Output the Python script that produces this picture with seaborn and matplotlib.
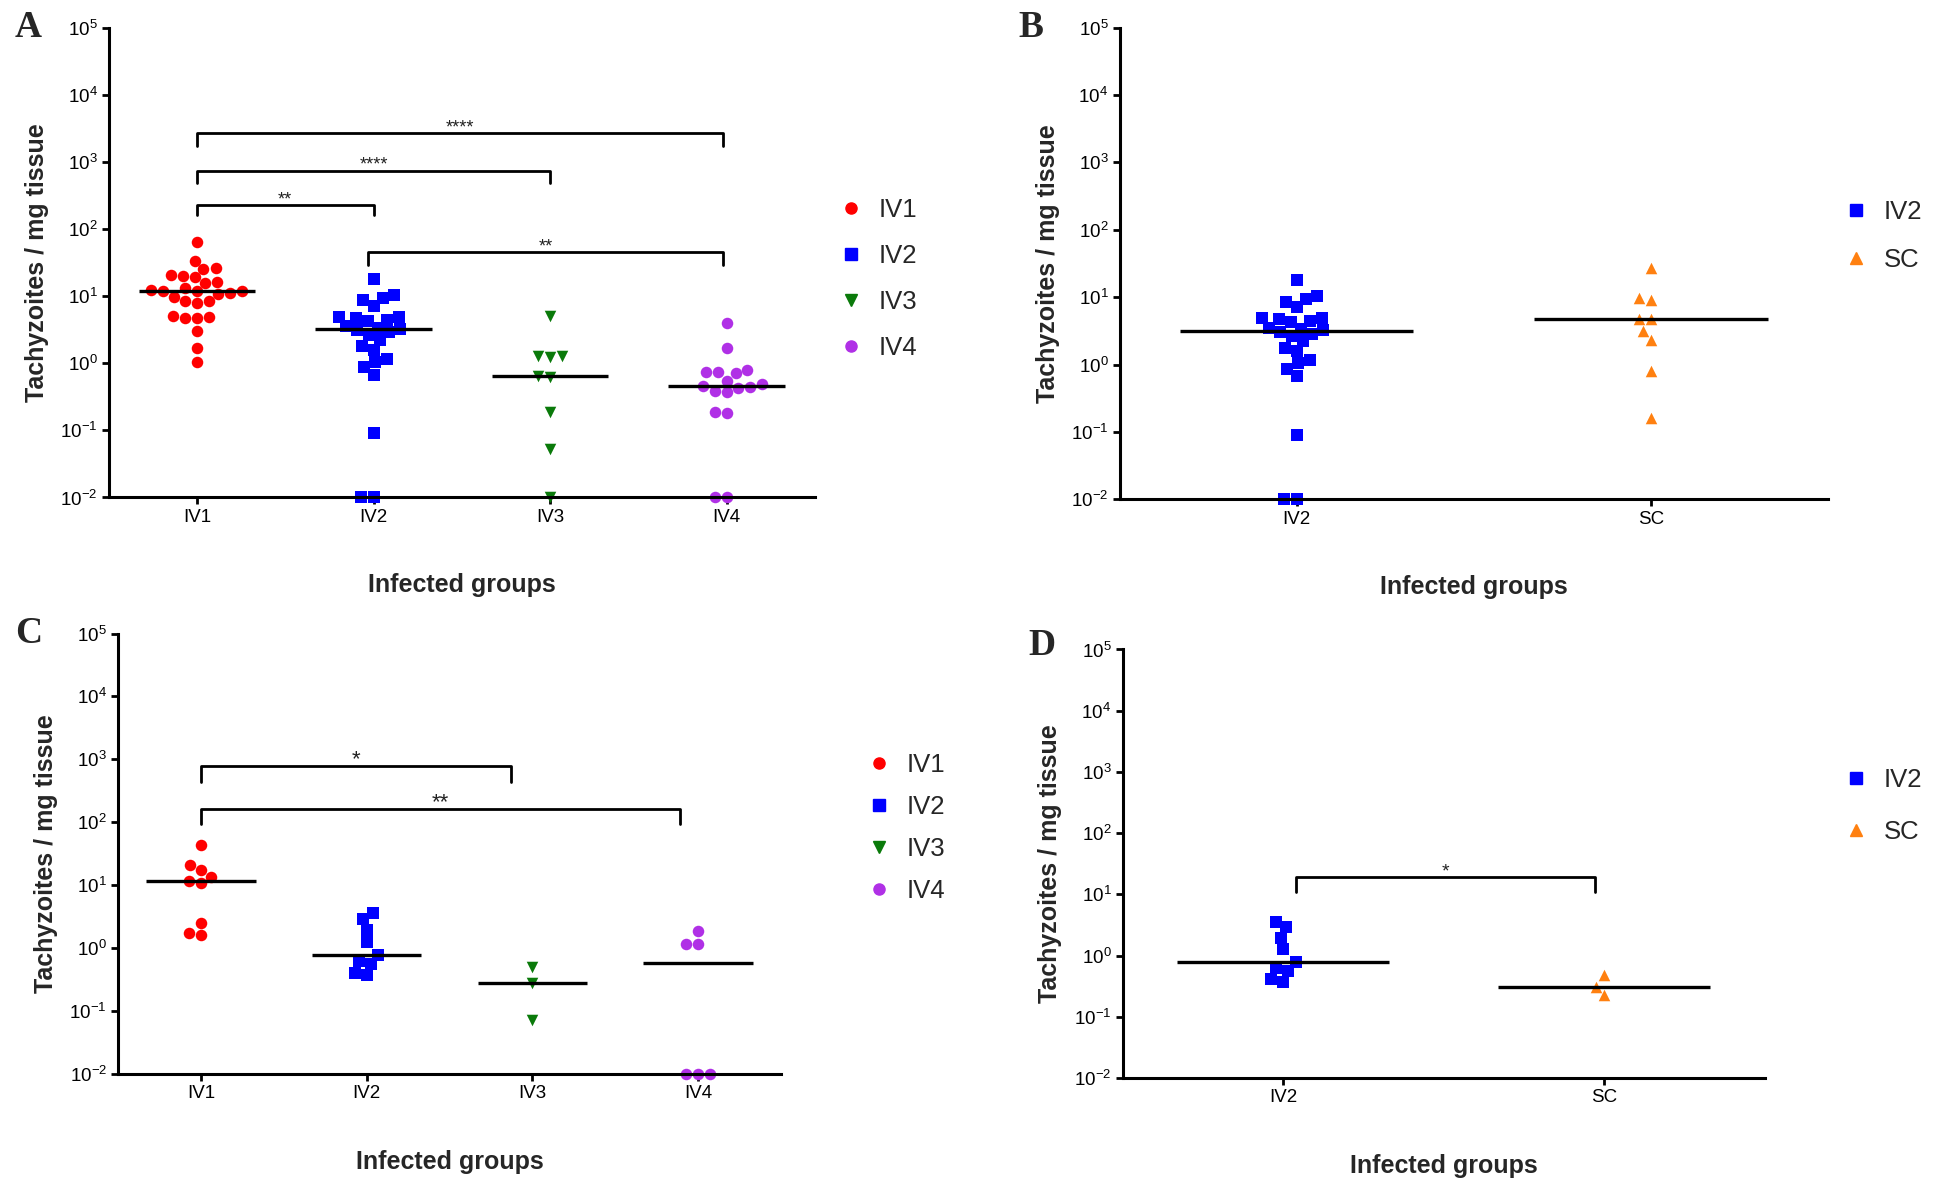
import numpy as np
import pandas as pd
import matplotlib
matplotlib.use("Agg")
import matplotlib.pyplot as plt
import seaborn as sns
from matplotlib.lines import Line2D
from matplotlib.ticker import NullLocator

# ---------------- data (tachyzoites / mg tissue) ----------------
groups_ACD = ["IV1", "IV2", "IV3", "IV4"]
groups_BD = ["IV2", "SC"]

A_IV1 = [64, 33, 25, 26, 20, 19, 20.5, 16.3, 15.7, 13.2, 12, 11.8, 10.9, 11.1,
         11.8, 12.3, 9.7, 8.4, 7.9, 8.4, 4.9, 4.7, 4.7, 5.1, 3.05, 1.66, 1.03]
A_IV2 = [18, 9.3, 10.3, 8.6, 7.2, 4.9, 4.4, 4.27, 4.7, 4.9, 3.55, 3.27, 3.4,
         3.09, 2.88, 2.64, 2.24, 1.78, 1.59, 1.05, 1.16, 0.865, 0.667, 0.091,
         0.01, 0.01]
A_IV3 = [5.0, 1.29, 1.24, 1.29, 0.65, 0.62, 0.19, 0.052, 0.01]
A_IV4 = [4.0, 1.69, 0.80, 0.73, 0.71, 0.73, 0.55, 0.43, 0.44, 0.37, 0.39,
         0.45, 0.49, 0.186, 0.18, 0.01, 0.01]
B_SC = [26.8, 9.1, 9.6, 4.7, 4.7, 3.15, 2.3, 0.81, 0.16]
C_IV1 = [43, 17.6, 21, 11.7, 10.8, 13.3, 2.55, 1.6, 1.77]
C_IV2 = [3.6, 2.9, 1.95, 1.27, 0.78, 0.56, 0.63, 0.377, 0.41]
C_IV3 = [0.51, 0.284, 0.072]
C_IV4 = [1.16, 1.15, 1.84, 0.01, 0.01, 0.01]
D_SC = [0.48, 0.226, 0.31]

ytick_exps = [-2, -1, 0, 1, 2, 3, 4, 5]

# significance comparisons: (x_left, x_right, log10 top, log10 end, label)
sig_A = [(0, 1, 2.36, 2.20, "**"), (0, 2, 2.87, 2.69, "****"),
         (0, 2.98, 3.43, 3.24, "****"), (0.97, 2.98, 1.655, 1.47, "**")]
sig_C = [(0, 1.87, 2.89, 2.64, "*"), (0, 2.89, 2.21, 1.965, "**")]
sig_D = [(0.04, 0.97, 1.278, 1.04, "*")]

COL = {"IV1": "#FF0000", "IV2": "#0000FF", "IV3": "#0A7A0A",
       "IV4": "#B030E6", "SC": "#FF8010"}
MRK = {"IV1": "o", "IV2": "s", "IV3": "v", "IV4": "o", "SC": "^"}

W, H = 1937, 1197
fig = plt.figure(figsize=(W / 100, H / 100), dpi=100)
fig.patch.set_facecolor("white")
sns.set_style("ticks")
plt.rcParams["font.family"] = ["Liberation Sans", "DejaVu Sans"]
plt.rcParams["mathtext.default"] = "regular"


def px_rect(x0, y0, x1, y1):
    return [x0 / W, 1 - y1 / H, (x1 - x0) / W, (y1 - y0) / H]


def draw_panel(rect, cats, values, sigs, star_fs, leg_xy, leg_space, letter, letter_xy):
    ax = fig.add_axes(px_rect(*rect))
    ax_w = rect[2] - rect[0]
    ax_h = rect[3] - rect[1]
    for i, (cat, vals) in enumerate(zip(cats, values)):
        df = pd.DataFrame({"group": [cat] * len(vals), "value": vals})
        sns.swarmplot(data=df, x="group", y="value", order=cats, color=COL[cat],
                      marker=MRK[cat], size=8.3, linewidth=0, ax=ax,
                      log_scale=True, zorder=2)
        med = float(np.median(vals))
        ax.hlines(med, i - 0.33, i + 0.33, color="black", lw=2.4, zorder=4)
    for coll in ax.collections:
        coll.set_clip_on(False)
    ax.set_yscale("log")
    ax.set_ylim(1e-2, 1e5)
    ax.set_xlim(-0.5, len(cats) - 0.5)
    ax.set_yticks([10.0 ** e for e in ytick_exps])
    ax.set_yticklabels([r"$\mathregular{10^{%d}}$" % e for e in ytick_exps])
    ax.yaxis.set_minor_locator(NullLocator())
    ax.set_xticks(range(len(cats)))
    ax.set_xticklabels(cats)
    for s in ["top", "right"]:
        ax.spines[s].set_visible(False)
    for s in ["left", "bottom"]:
        ax.spines[s].set_linewidth(2.2)
        ax.spines[s].set_color("black")
    ax.tick_params(axis="both", direction="out", length=5, width=2,
                   labelsize=13.5, pad=3, colors="black")
    ax.set_facecolor("none")
    ax.set_xlabel("Infected groups", fontsize=18, fontweight="bold")
    ax.set_ylabel("Tachyzoites / mg tissue", fontsize=18, fontweight="bold")
    ax.xaxis.label.set_va("center")
    ax.yaxis.label.set_va("center")
    ax.xaxis.set_label_coords(0.5, -88 / ax_h)
    ax.yaxis.set_label_coords(-72 / ax_w, 0.5)
    for x1, x2, ytop, yend, lab in sigs:
        ax.plot([x1, x1, x2, x2], [10 ** yend, 10 ** ytop, 10 ** ytop, 10 ** yend],
                color="black", lw=2.0, zorder=5, clip_on=False)
        ax.annotate(lab, xy=((x1 + x2) / 2, 10 ** ytop), xytext=(0, 0.5),
                    textcoords="offset points", ha="center", va="baseline",
                    fontsize=star_fs, color="#222222")
    handles = [Line2D([], [], marker=MRK[c], color=COL[c], linestyle="None",
                      markersize=8) for c in cats]
    ax.legend(handles, cats, loc="upper left",
              bbox_to_anchor=(leg_xy[0] / W, 1 - leg_xy[1] / H),
              bbox_transform=fig.transFigure, frameon=False, fontsize=18.5,
              handlelength=1.0, handletextpad=0.6, labelspacing=leg_space,
              borderpad=0, borderaxespad=0)
    fig.text(letter_xy[0] / W, 1 - letter_xy[1] / H, letter,
             fontfamily=["Liberation Serif", "DejaVu Serif"], fontweight="bold",
             fontsize=27, va="top", ha="left")
    return ax


draw_panel((108.7, 27.5, 815, 497.5), groups_ACD, [A_IV1, A_IV2, A_IV3, A_IV4],
           sig_A, 13, (838, 198), 0.85, "A", (15, 10))
draw_panel((1119.5, 27.6, 1827.8, 499.4), groups_BD, [A_IV2, B_SC],
           [], 12, (1843, 200), 0.95, "B", (1018, 10))
draw_panel((118, 633.5, 781, 1074), groups_ACD, [C_IV1, C_IV2, C_IV3, C_IV4],
           sig_C, 16, (866, 753), 0.7, "C", (15, 616))
draw_panel((1122.5, 649.5, 1765, 1078), groups_BD, [C_IV2, D_SC],
           sig_D, 14, (1843, 768), 1.1, "D", (1028, 628))

fig.savefig("out.png", dpi=100, facecolor="white")
